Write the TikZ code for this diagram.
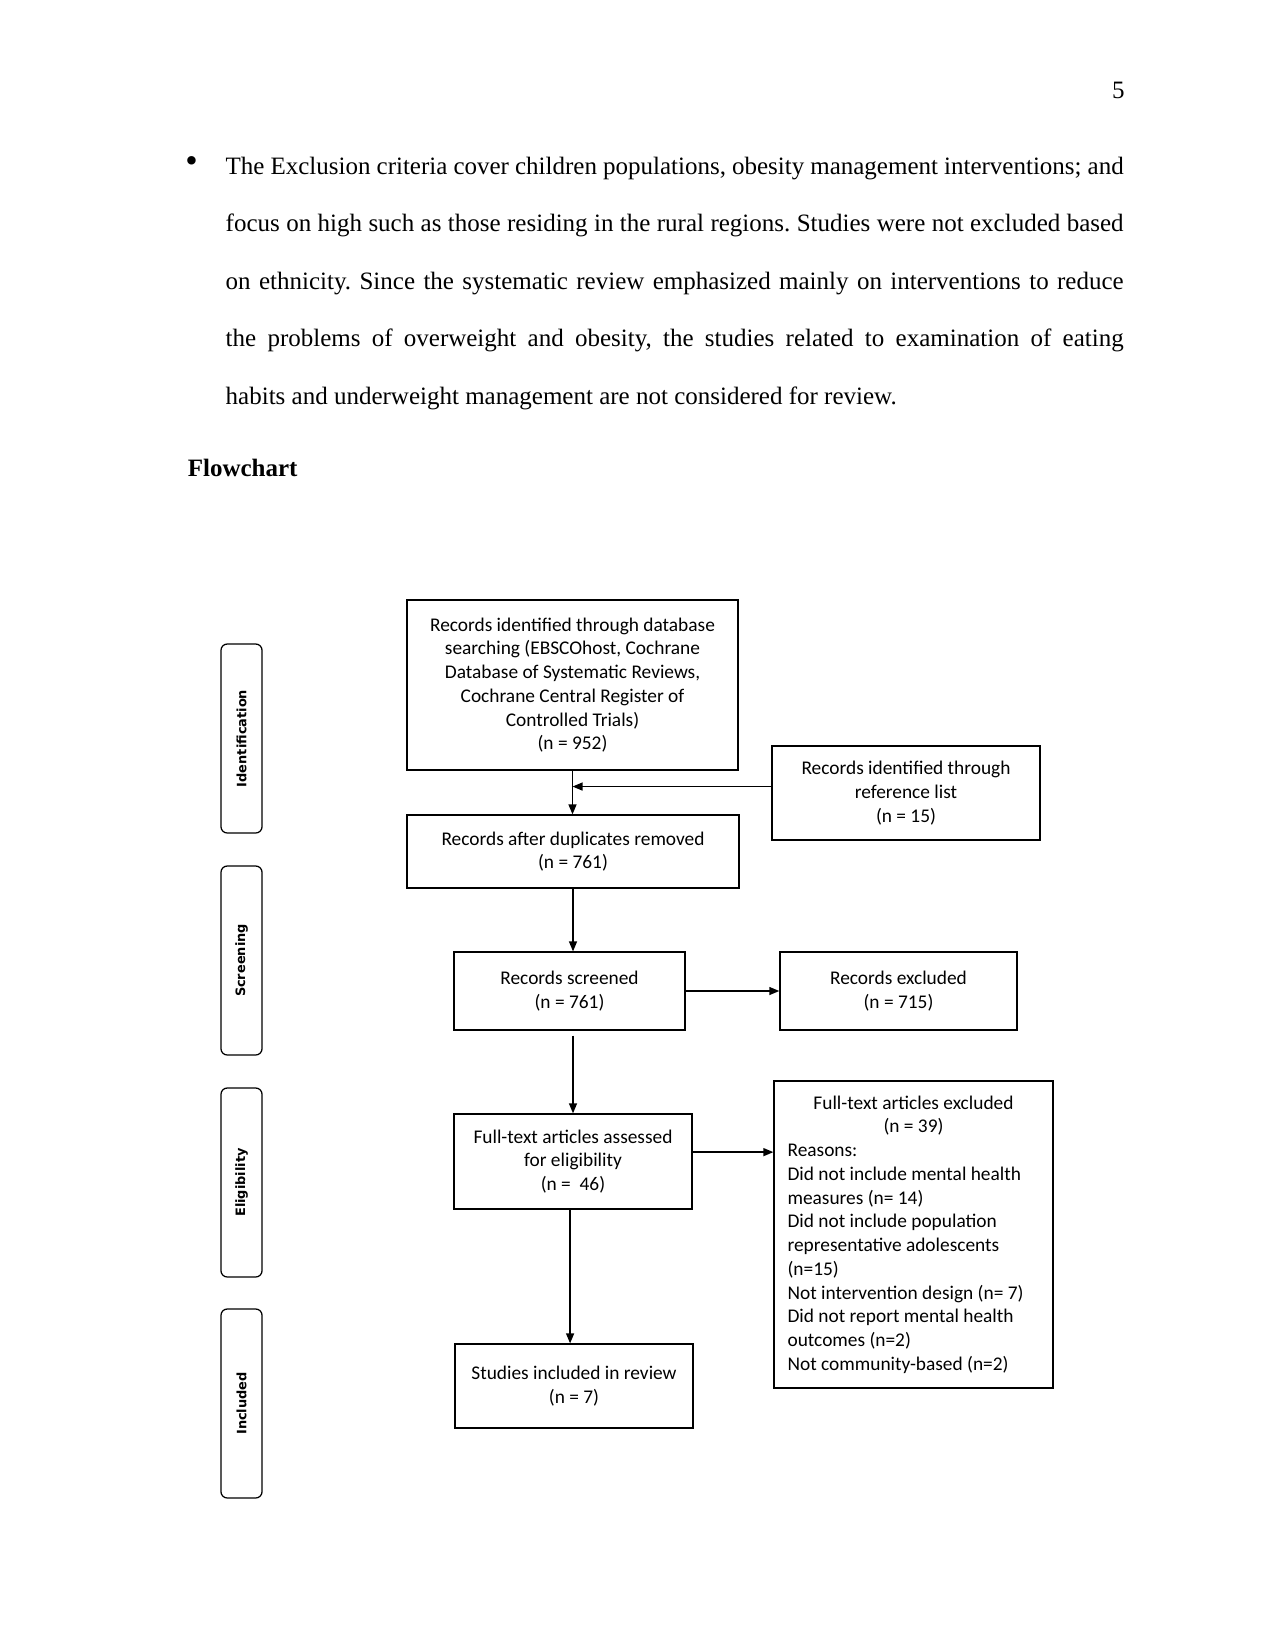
\documentclass[tikz,border=0pt]{standalone}
\usepackage{fontspec}
\setmainfont{Liberation Serif}
\newfontfamily\boxfont{Carlito}
\newfontfamily\stagefont{DejaVu Sans}
\usetikzlibrary{arrows.meta,positioning}
\frenchspacing

\tikzset{
  flowbox/.style={draw, line width=0.6pt, align=center, font=\boxfont\fontsize{9.3}{11.4}\selectfont},
  stagebox/.style={draw, line width=0.6pt, rounded corners=3pt, rotate=90, minimum width=90.7pt, minimum height=19.7pt, font=\stagefont\bfseries\fontsize{6.2}{7}\selectfont},
  flowarrow/.style={-{Triangle[length=4.8pt,width=3.8pt]}, line width=0.7pt},
  bodyline/.style={anchor=base west, inner sep=0pt, font=\fontsize{12}{27.6}\selectfont},
}

\begin{document}
\begin{tikzpicture}[x=0.48pt, y=-0.48pt]
  \path[use as bounding box, fill=white] (0,0) rectangle (1275,1651);

  % page text
  \node[anchor=base east, inner sep=0pt, font=\fontsize{12}{14}\selectfont] (pagenum) at (1125,99) {5};
  \node[anchor=center, inner sep=0pt, font=\fontsize{17}{20}\selectfont] (bullet) at (191.6,165) {•};
  \node[bodyline] (line1) at (225.3,174.3) {\makebox[431pt][s]{The Exclusion criteria cover children populations, obesity management interventions; and}};
  \node[bodyline] (line2) at (225.3,231.8) {\makebox[431pt][s]{focus on high such as those residing in the rural regions. Studies were not excluded based}};
  \node[bodyline] (line3) at (225.3,289.3) {\makebox[431pt][s]{on ethnicity. Since the systematic review emphasized mainly on interventions to reduce}};
  \node[bodyline] (line4) at (225.3,346.8) {\makebox[431pt][s]{the problems of overweight and obesity, the studies related to examination of eating}};
  \node[bodyline] (line5) at (225.3,404.3) {habits and underweight management are not considered for review.};
  \node[anchor=base west, inner sep=0pt, font=\bfseries\fontsize{12}{14}\selectfont] (heading) at (187.4,476) {Flowchart};

  % stages
  \foreach \ypos/\stage in {738.5/Identification, 960.5/Screening, 1182.5/Eligibility, 1403.5/Included}
    \node[stagebox] (stage-\stage) at (241.5,\ypos) {\stage};

  % boxes
  \node[flowbox, minimum width=158.9pt, minimum height=81.6pt] (db) at (572.5,685) {
    Records identified through database\\
    searching (EBSCOhost, Cochrane\\
    Database of Systematic Reviews,\\
    Cochrane Central Register of\\
    Controlled Trials)\\
    (n = 952)
  };
  \node[flowbox, minimum width=128.6pt, minimum height=45.1pt] (ref) at (906,793) {
    Records identified through\\
    reference list\\
    (n = 15)
  };
  \node[flowbox, minimum width=159.4pt, minimum height=35pt] (dup) at (573,851.5) {
    Records after duplicates removed\\
    (n = 761)
  };
  \node[flowbox, minimum width=110.9pt, minimum height=37.4pt] (screened) at (569.5,991) {
    Records screened\\
    (n = 761)
  };
  \node[flowbox, minimum width=113.8pt, minimum height=37.4pt] (excluded) at (898.5,991) {
    Records excluded\\
    (n = 715)
  };
  \node[flowbox, minimum width=114.2pt, minimum height=45.6pt] (fulltext) at (573,1161.5) {
    Full-text articles assessed\\
    for eligibility\\
    (n =\ \ 46)
  };
  \node[flowbox, align=flush left, text width=120.9pt, inner xsep=6.5pt, minimum height=147.4pt] (ftexcl) at (913.5,1234.5) {
    \makebox[\linewidth]{Full-text articles excluded}\\
    \makebox[\linewidth]{(n = 39)}\\
    Reasons:\\
    Did not include mental health\\
    measures (n= 14)\\
    Did not include population\\
    representative adolescents\\
    (n=15)\\
    Not intervention design (n= 7)\\
    Did not report mental health\\
    outcomes (n=2)\\
    Not community-based (n=2)
  };
  \node[flowbox, minimum width=114.2pt, minimum height=40.3pt] (included) at (574,1386) {
    Studies included in review\\
    (n = 7)
  };

  % arrows
  \draw[flowarrow] (db.south) -- (db.south |- dup.north);
  \draw[flowarrow] ([yshift=3.1pt]ref.west) -- ([yshift=3.1pt]ref.west -| db.south);
  \draw[flowarrow] (dup.south) -- (dup.south |- screened.north);
  \draw[flowarrow] (screened.east) -- (excluded.west);
  \draw[flowarrow, shorten <=2.4pt] (fulltext.north |- screened.south) -- (fulltext.north);
  \draw[flowarrow] ([yshift=4.5pt]fulltext.east) -- ([yshift=4.5pt]fulltext.east -| ftexcl.west);
  \draw[flowarrow] ([xshift=-1.4pt]fulltext.south) -- ([xshift=-1.4pt]fulltext.south |- included.north);
\end{tikzpicture}
\end{document}
